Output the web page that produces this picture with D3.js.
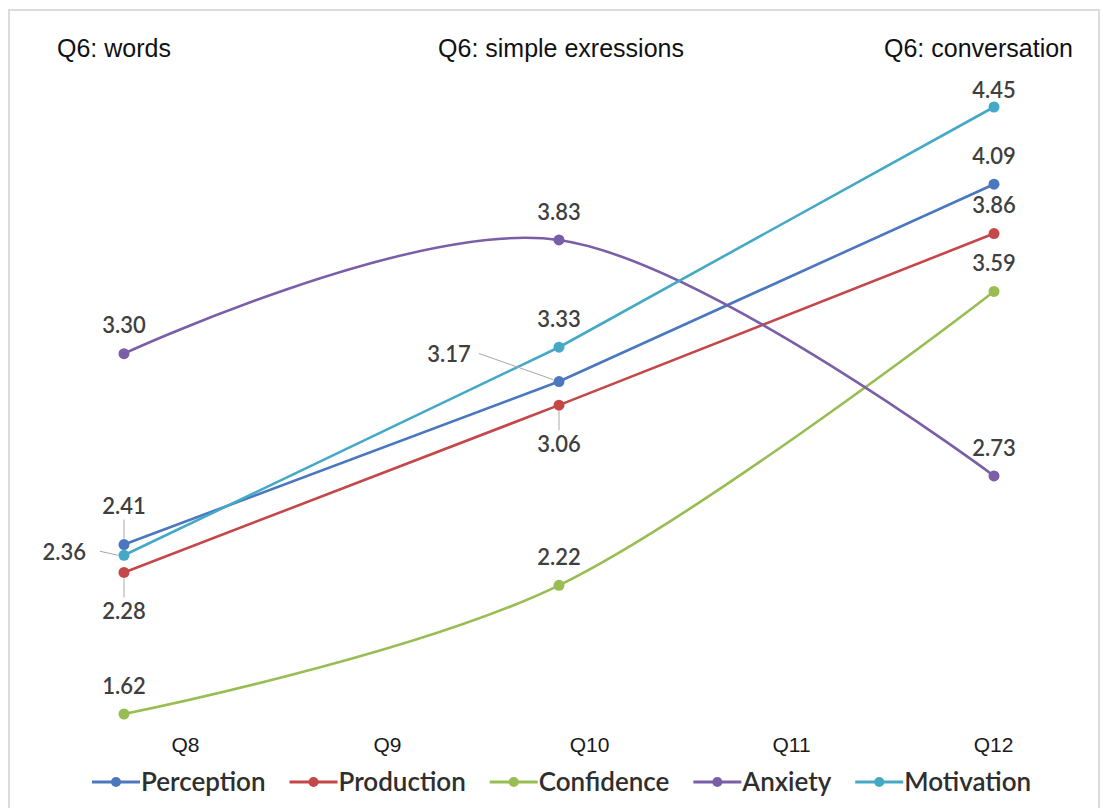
<!DOCTYPE html>
<html>
<head>
<meta charset="utf-8">
<script src="https://cdn.jsdelivr.net/npm/d3@7"></script>
<style>
  html, body { margin: 0; padding: 0; background: #fff; }
  svg { display: block; }
</style>
</head>
<body>
<svg id="chart" width="1103" height="808"></svg>
<script>
// Levels of question Q6 (one point per level)
const levels = ["Q6: words", "Q6: simple exressions", "Q6: conversation"];
// Bottom category labels
const questions = ["Q8", "Q9", "Q10", "Q11", "Q12"];

// Mean scores per scale, one value per Q6 level
const perception = [2.41, 3.17, 4.09];
const production = [2.28, 3.06, 3.86];
const confidence = [1.62, 2.22, 3.59];
const anxiety    = [3.30, 3.83, 2.73];
const motivation = [2.36, 3.33, 4.45];

const seriesNames = ["Perception", "Production", "Confidence", "Anxiety", "Motivation"];
const seriesValues = [perception, production, confidence, anxiety, motivation];
const seriesColors = ["#4a77be", "#c4474a", "#98bd52", "#7a5ea8", "#44a9c6"];
const smoothed = [false, false, true, true, false];

// Label placement per series/point: "above", "below", or a leader-line callout
const labelPlacement = {
  Perception: [{ pos: "aboveLeader" }, { pos: "leftCallout", dx: -110, dy: -27 }, { pos: "above" }],
  Production: [{ pos: "belowLeader" }, { pos: "belowLeader" }, { pos: "above" }],
  Confidence: [{ pos: "above" }, { pos: "above" }, { pos: "above" }],
  Anxiety:    [{ pos: "above" }, { pos: "above" }, { pos: "above" }],
  Motivation: [{ pos: "leftSide" }, { pos: "above" }, { pos: "aboveClip" }]
};

const svg = d3.select("#chart");

// Light frame around the chart area
svg.append("path")
  .attr("d", "M9,808 V10 H1099 V808")
  .attr("fill", "none")
  .attr("stroke", "#dcdcdc")
  .attr("stroke-width", 2);

const allValues = seriesValues.flat();
const x = d3.scalePoint().domain(levels).range([124, 994]);
const y = d3.scaleLinear().domain(d3.extent(allValues)).range([714, 107]);
const xq = d3.scalePoint().domain(questions).range([185, 993]);

// Level titles along the top
const titleAnchor = ["start", "middle", "end"];
const titleX = [57, x(levels[1]) + 2, 1073];
svg.selectAll("text.level")
  .data(levels)
  .join("text")
  .attr("class", "level")
  .attr("x", (d, i) => titleX[i])
  .attr("y", 57)
  .attr("text-anchor", (d, i) => titleAnchor[i])
  .attr("font-family", "Liberation Sans, Arial, sans-serif")
  .attr("font-size", 25)
  .attr("fill", "#111")
  .text(d => d);

// Bottom category axis (labels only)
const axis = svg.append("g")
  .attr("transform", "translate(0,737)")
  .call(d3.axisBottom(xq).tickSize(0).tickPadding(0));
axis.select(".domain").remove();
axis.selectAll("text")
  .attr("font-family", "Liberation Sans, Arial, sans-serif")
  .attr("font-size", 21)
  .attr("fill", "#1a1a1a")
  .attr("dy", "0.7em");

// Lines
const series = seriesNames.map((name, i) => ({
  name,
  color: seriesColors[i],
  smooth: smoothed[i],
  points: seriesValues[i].map((v, j) => ({ level: levels[j], value: v, idx: j }))
}));

const gLines = svg.append("g");
series.forEach(s => {
  const line = d3.line()
    .x(d => x(d.level))
    .y(d => y(d.value))
    .curve(s.smooth ? d3.curveCatmullRom.alpha(0) : d3.curveLinear);
  gLines.append("path")
    .datum(s.points)
    .attr("d", line)
    .attr("fill", "none")
    .attr("stroke", s.color)
    .attr("stroke-width", 2.6)
    .attr("stroke-linecap", "round");
  gLines.selectAll(null)
    .data(s.points)
    .join("circle")
    .attr("cx", d => x(d.level))
    .attr("cy", d => y(d.value))
    .attr("r", 5.5)
    .attr("fill", s.color);
});

// Data labels
const gLabels = svg.append("g")
  .attr("font-family", "Lato, 'Open Sans', sans-serif")
  .attr("font-weight", 600)
  .attr("font-size", 22)
  .attr("fill", "#3f3f3f");
const leader = "#a8a8a8";

series.forEach(s => {
  s.points.forEach((p, j) => {
    const px = x(p.level), py = y(p.value);
    const place = labelPlacement[s.name][j];
    const txt = p.value.toFixed(2);
    let lx = px, ly = py - 28, anchor = "middle";
    if (place.pos === "aboveClip") {
      ly = py - 17;
    } else if (place.pos === "aboveLeader") {
      ly = py - 38;
      gLabels.append("line")
        .attr("x1", px).attr("x2", px)
        .attr("y1", ly + 13).attr("y2", py - 6)
        .attr("stroke", leader).attr("stroke-width", 1);
    } else if (place.pos === "belowLeader") {
      ly = py + 39;
      gLabels.append("line")
        .attr("x1", px).attr("x2", px)
        .attr("y1", py + 6).attr("y2", ly - 14)
        .attr("stroke", leader).attr("stroke-width", 1);
    } else if (place.pos === "leftSide") {
      lx = px - 38; ly = py - 3; anchor = "end";
      gLabels.append("line")
        .attr("x1", px - 24).attr("x2", px - 6)
        .attr("y1", py - 4).attr("y2", py)
        .attr("stroke", leader).attr("stroke-width", 1);
    } else if (place.pos === "leftCallout") {
      lx = px + place.dx; ly = py + place.dy;
      gLabels.append("line")
        .attr("x1", lx + 30).attr("x2", px - 6)
        .attr("y1", ly - 1).attr("y2", py - 2)
        .attr("stroke", leader).attr("stroke-width", 1);
    }
    gLabels.append("text")
      .attr("x", lx)
      .attr("y", ly)
      .attr("dy", "0.35em")
      .attr("text-anchor", anchor)
      .text(txt);
  });
});

// Legend
const legend = svg.append("g")
  .attr("transform", "translate(0,782)")
  .attr("font-family", "Lato, 'Open Sans', sans-serif")
  .attr("font-weight", 600)
  .attr("font-size", 26)
  .attr("fill", "#2e2e2e");
let lxCursor = 92;
series.forEach(s => {
  const item = legend.append("g").attr("transform", `translate(${lxCursor},0)`);
  item.append("line")
    .attr("x1", 0).attr("x2", 48)
    .attr("y1", 0).attr("y2", 0)
    .attr("stroke", s.color)
    .attr("stroke-width", 2.8);
  item.append("circle")
    .attr("cx", 24).attr("cy", 0).attr("r", 5).attr("fill", s.color);
  const t = item.append("text")
    .attr("x", 49)
    .attr("y", 0)
    .attr("dy", "0.35em")
    .text(s.name);
  lxCursor += 49 + t.node().getComputedTextLength() + 24;
});
</script>
</body>
</html>
